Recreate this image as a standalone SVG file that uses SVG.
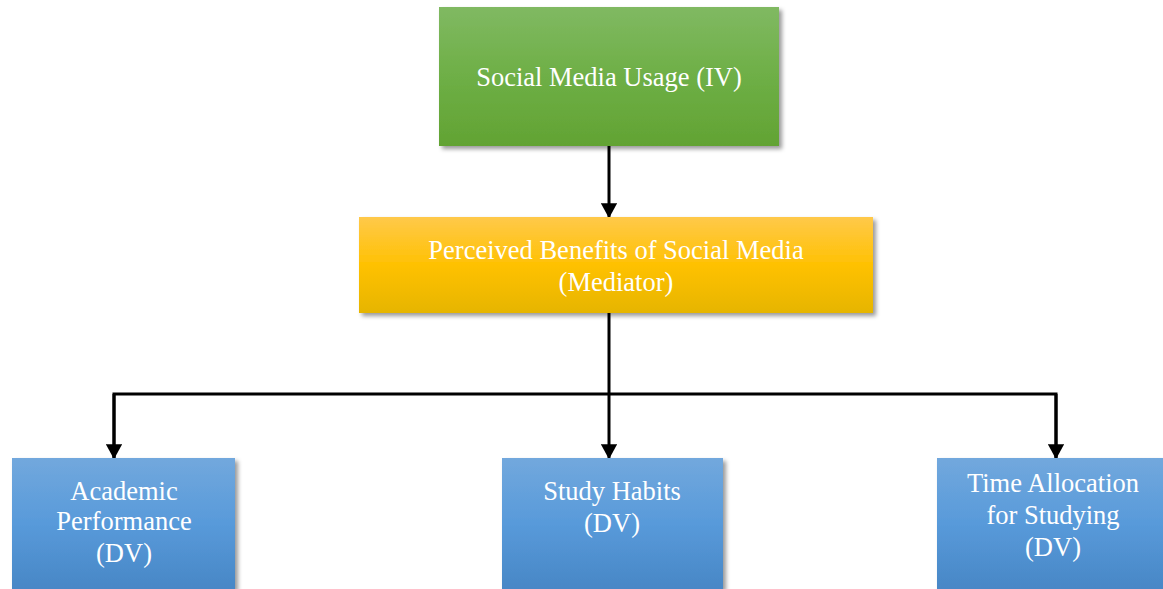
<svg xmlns="http://www.w3.org/2000/svg" width="1163" height="589" viewBox="0 0 1163 589">
<style>
.t{font-family:"Liberation Serif","Times New Roman",serif;font-size:26.5px;fill:#ffffff;text-anchor:middle}
.c{stroke:#000;stroke-width:3;fill:none}
</style>
<defs>
<linearGradient id="gG" x1="0" y1="0" x2="0" y2="1"><stop offset="0" stop-color="#80b962"/><stop offset="0.5" stop-color="#6eaf46"/><stop offset="1" stop-color="#62a333"/></linearGradient>
<linearGradient id="gO" x1="0" y1="0" x2="0" y2="1"><stop offset="0" stop-color="#ffc94a"/><stop offset="0.5" stop-color="#ffc102"/><stop offset="1" stop-color="#e6b500"/></linearGradient>
<linearGradient id="gB" x1="0" y1="0" x2="0" y2="1"><stop offset="0" stop-color="#72a8dd"/><stop offset="0.5" stop-color="#589ada"/><stop offset="1" stop-color="#4887c6"/></linearGradient>
<filter id="sh" x="-5%" y="-5%" width="110%" height="115%"><feDropShadow dx="3" dy="3" stdDeviation="2" flood-color="#000" flood-opacity="0.4"/></filter>
<marker id="ah" markerWidth="5" markerHeight="5.4" refX="4.6" refY="2.7" orient="auto" markerUnits="strokeWidth"><path d="M0,0 L5,2.7 L0,5.4 z" fill="#000"/></marker>
</defs>
<g id="connectors">
<line class="c" x1="609" y1="146" x2="609" y2="217" marker-end="url(#ah)"/>
<line class="c" x1="609" y1="313" x2="609" y2="458" marker-end="url(#ah)"/>
<polyline class="c" points="114,458 114,394 1056,394 1056,458"/>
<line class="c" x1="114" y1="394" x2="114" y2="458" marker-end="url(#ah)"/>
<line class="c" x1="1056" y1="394" x2="1056" y2="458" marker-end="url(#ah)"/>
</g>
<g id="iv">
<rect x="439" y="7" width="340" height="139" fill="url(#gG)" filter="url(#sh)"/>
<text class="t" x="609" y="86">Social Media Usage (IV)</text>
</g>
<g id="mediator">
<rect x="359" y="217" width="514" height="96" fill="url(#gO)" filter="url(#sh)"/>
<text class="t" x="616" y="259">Perceived Benefits of Social Media</text>
<text class="t" x="616" y="291">(Mediator)</text>
</g>
<g id="dv1">
<rect x="12" y="458" width="223" height="131" fill="url(#gB)" filter="url(#sh)"/>
<text class="t" x="124" y="500">Academic</text>
<text class="t" x="124" y="530">Performance</text>
<text class="t" x="124" y="562">(DV)</text>
</g>
<g id="dv2">
<rect x="502" y="458" width="221" height="131" fill="url(#gB)" filter="url(#sh)"/>
<text class="t" x="612" y="500">Study Habits</text>
<text class="t" x="612" y="532">(DV)</text>
</g>
<g id="dv3">
<rect x="937" y="458" width="226" height="131" fill="url(#gB)" filter="url(#sh)"/>
<text class="t" x="1053" y="492">Time Allocation</text>
<text class="t" x="1053" y="524">for Studying</text>
<text class="t" x="1053" y="556">(DV)</text>
</g>
</svg>
